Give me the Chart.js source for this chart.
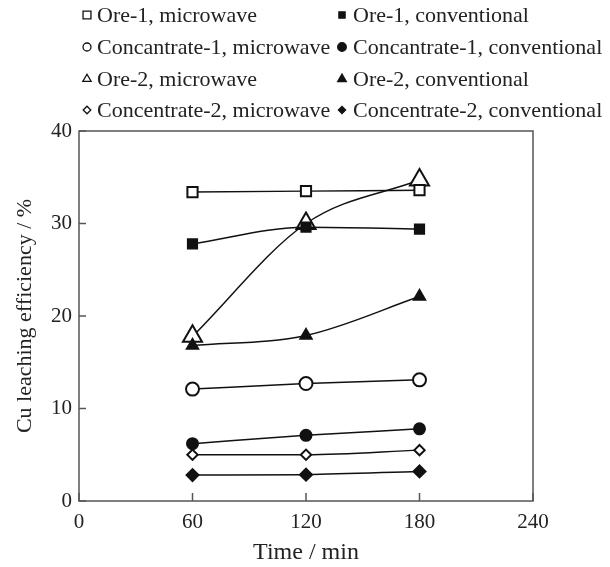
<!DOCTYPE html>
<html>
<head>
<meta charset="utf-8">
<script src="https://cdn.jsdelivr.net/npm/chart.js@4/dist/chart.umd.min.js"></script>
<style>
  html, body { margin: 0; padding: 0; background: #fff; }
  #wrap { width: 610px; height: 567px; }
</style>
</head>
<body>
<div id="wrap"><canvas id="leachChart"></canvas></div>
<script>
const times = [60, 120, 180];
const xTicks = [0, 60, 120, 180, 240];
const yTicks = [0, 10, 20, 30, 40];

const ore1Microwave = [33.4, 33.5, 33.6];
const ore1Conventional = [27.8, 29.6, 29.4];
const conc1Microwave = [12.1, 12.7, 13.1];
const conc1Conventional = [6.2, 7.1, 7.8];
const ore2Microwave = [17.8, 30.0, 34.7];
const ore2Conventional = [16.8, 17.9, 22.1];
const conc2Microwave = [5.0, 5.0, 5.5];
const conc2Conventional = [2.8, 2.85, 3.2];

const labels = [
  'Ore-1, microwave', 'Ore-1, conventional',
  'Concantrate-1, microwave', 'Concantrate-1, conventional',
  'Ore-2, microwave', 'Ore-2, conventional',
  'Concentrate-2, microwave', 'Concentrate-2, conventional'
];
const seriesValues = [ore1Microwave, ore1Conventional, conc1Microwave, conc1Conventional,
  ore2Microwave, ore2Conventional, conc2Microwave, conc2Conventional];

// marker look per series: [pointStyle, filled, plot radius, legend radius]
const markers = [
  ['rect', false, 7.2, 5.6], ['rect', true, 6.5, 4.4],
  ['circle', false, 6.5, 4], ['circle', true, 5.5, 4.3],
  ['triangle', false, 11, 4.8], ['triangle', true, 6.5, 5],
  ['rectRot', false, 5.2, 3.8], ['rectRot', true, 6, 3.6]
];

const ink = '#111';
const serif = '"Liberation Serif", "DejaVu Serif", serif';

const datasets = labels.map((label, i) => {
  const [style, filled, r] = markers[i];
  return {
    label,
    data: times.map((t, j) => ({ x: t, y: seriesValues[i][j] })),
    borderColor: ink,
    borderWidth: 1.5,
    cubicInterpolationMode: 'monotone',
    pointStyle: style,
    pointRadius: r,
    pointHoverRadius: r,
    pointBorderWidth: 2,
    pointBorderColor: ink,
    pointBackgroundColor: filled ? ink : '#fff',
    order: filled ? 0 : 1
  };
});

const frameAndLegend = {
  id: 'frameAndLegend',
  afterDatasetsDraw(chart) {
    const { ctx, chartArea: a, scales } = chart;
    ctx.save();
    ctx.strokeStyle = '#555';
    ctx.lineWidth = 1.5;
    ctx.strokeRect(a.left, a.top, a.right - a.left, a.bottom - a.top);
    ctx.beginPath();
    yTicks.forEach(v => {
      const y = scales.y.getPixelForValue(v);
      ctx.moveTo(a.left, y); ctx.lineTo(a.left + 7, y);
    });
    xTicks.forEach(v => {
      const x = scales.x.getPixelForValue(v);
      ctx.moveTo(x, a.bottom); ctx.lineTo(x, a.bottom - 8);
    });
    ctx.stroke();
    ctx.restore();
  },
  afterDraw(chart) {
    const { ctx } = chart;
    const colMarkerX = [87, 342];
    const colTextX = [97, 353];
    const rowY = [15, 47, 79, 110];
    ctx.save();
    ctx.font = '22px ' + serif;
    ctx.textBaseline = 'middle';
    labels.forEach((label, i) => {
      const col = i % 2, row = Math.floor(i / 2);
      const [style, filled, , lr] = markers[i];
      ctx.strokeStyle = ink;
      ctx.fillStyle = filled ? ink : '#fff';
      ctx.lineWidth = 1.3;
      Chart.helpers.drawPoint(ctx, { pointStyle: style, radius: lr, rotation: 0, borderWidth: 1.3 },
        colMarkerX[col], rowY[row]);
      ctx.fillStyle = '#222';
      ctx.fillText(label, colTextX[col], rowY[row] + 1);
    });
    ctx.restore();
  }
};

new Chart(document.getElementById('leachChart'), {
  type: 'line',
  data: { datasets },
  options: {
    responsive: true,
    maintainAspectRatio: false,
    animation: false,
    layout: { padding: { top: 131, right: 77, left: 0, bottom: 0 } },
    plugins: { legend: { display: false }, tooltip: { enabled: false } },
    scales: {
      x: {
        type: 'linear',
        min: 0, max: 240,
        afterFit: s => { s.height = 66; },
        afterBuildTicks: s => { s.ticks = xTicks.map(v => ({ value: v })); },
        grid: { display: false, drawTicks: false },
        border: { display: false },
        ticks: { color: '#222', padding: 9, font: { family: serif, size: 21 } },
        title: { display: true, text: 'Time / min', color: '#222', padding: 0, font: { family: serif, size: 24 } }
      },
      y: {
        min: 0, max: 40,
        afterFit: s => { s.width = 79; },
        afterBuildTicks: s => { s.ticks = yTicks.map(v => ({ value: v })); },
        grid: { display: false, drawTicks: false },
        border: { display: false },
        ticks: { color: '#222', padding: 7, font: { family: serif, size: 21 } },
        title: { display: true, text: 'Cu leaching efficiency / %', color: '#222', padding: { top: 12 }, font: { family: serif, size: 22 } }
      }
    }
  },
  plugins: [frameAndLegend]
});
</script>
</body>
</html>
